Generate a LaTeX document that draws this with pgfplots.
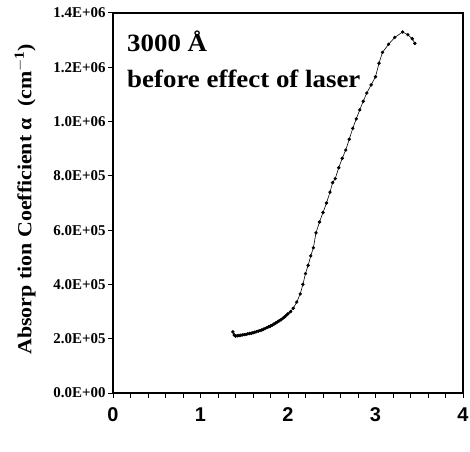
\documentclass[border=0pt]{standalone}
\usepackage{fontspec}
\setmainfont{Liberation Serif}
\newfontfamily\arialb{Liberation Sans}
\usepackage{graphicx}
\usepackage{pgfplots}
\pgfplotsset{compat=1.18}
\begin{document}
\begin{tikzpicture}
\begin{axis}[
  name=ax,
  scale only axis,
  width=350bp, height=380bp,
  xmin=0, xmax=4, ymin=0, ymax=1400000,
  axis line style={line width=1.3pt},
  axis x line*=bottom, axis y line*=left,
  tick align=outside,
  tick style={line width=1pt, black},
  major tick length=5bp, minor tick length=5bp,
  xtick={0,1,2,3,4}, xticklabels={0,1,2,3,4},
  minor x tick num=4,
  ytick={0,200000,400000,600000,800000,1000000,1200000,1400000},
  yticklabels={0.0E+00,2.0E+05,4.0E+05,6.0E+05,8.0E+05,1.0E+06,1.2E+06,1.4E+06},
  scaled y ticks=false,
  xticklabel style={font=\arialb\bfseries\fontsize{20}{20}\selectfont, yshift=-6bp},
  yticklabel style={font=\bfseries\fontsize{15}{15}\selectfont, xshift=1bp},
  ylabel={\scalebox{1.1}[1]{Absorp tion Coefficient α~ (cm$^{\mathbf{-1}}$)}},
  ylabel style={font=\bfseries\fontsize{20}{20}\selectfont, at={(axis description cs:-0.251,0.51)}, anchor=center, rotate=0},
  clip=false,
]
\addplot[black, line width=0.6pt, mark=*, mark size=1.4pt] coordinates {
(1.37,225000) (1.385,214000) (1.40,210000) (1.42,211000) (1.44,212000)
(1.46,213000) (1.48,214000) (1.50,215000) (1.52,216000) (1.54,218000)
(1.56,219000) (1.58,220000) (1.60,222000) (1.62,224000) (1.64,226000)
(1.66,228000) (1.68,230000) (1.70,232000) (1.72,235000) (1.74,238000)
(1.76,241000) (1.78,244000) (1.80,247000) (1.82,250000) (1.84,254000)
(1.86,258000) (1.88,262000) (1.90,266000) (1.92,270000) (1.94,275000)
(1.96,280000) (1.98,286000) (2.00,292000) (2.03,300000) (2.06,312000)
(2.10,335000) (2.14,365000) (2.17,400000) (2.20,440000) (2.23,470000)
(2.26,505000) (2.29,535000) (2.32,590000) (2.36,630000) (2.40,665000)
(2.44,700000) (2.48,740000) (2.51,775000) (2.54,790000) (2.58,830000)
(2.62,865000) (2.66,895000) (2.70,935000) (2.74,975000) (2.78,1010000)
(2.82,1043000) (2.86,1075000) (2.90,1105000) (2.95,1135000) (3.00,1165000)
(3.04,1215000) (3.08,1255000) (3.15,1285000) (3.22,1310000) (3.31,1330000)
(3.37,1320000) (3.42,1305000) (3.45,1288000)
};
\node[anchor=base west, inner sep=0pt, font=\bfseries\fontsize{25}{25}\selectfont] at (axis cs:0.16,1258000) {\scalebox{1.08}[1]{3000 Å}};
\node[anchor=base west, inner sep=0pt, font=\bfseries\fontsize{25}{25}\selectfont] at (axis cs:0.16,1126000) {\scalebox{1.08}[1]{before effect of laser}};
\end{axis}
\draw[line width=1.3pt] (ax.north west) -- (ax.north east) -- (ax.south east);
\pgfresetboundingbox
\path ([shift={(-113bp,-59bp)}]ax.south west) rectangle ([shift={(357bp,393bp)}]ax.south west);
\end{tikzpicture}
\end{document}
